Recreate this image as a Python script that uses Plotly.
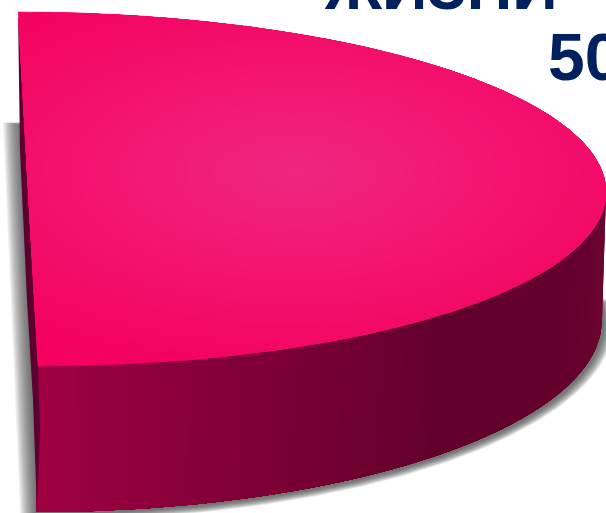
import numpy as np
import plotly.graph_objects as go

# Slice share and caption text
share_pct = [50]
caption_word = ["ЖИЗНИ"]
caption_share = ["50"]

# Colours of the slice
top_rim_color = (245, 2, 96)
top_glow_color = (240, 38, 128)
wall_stops = [0.0, 0.25, 0.5, 0.75, 1.0]
wall_shades = [(110, 8, 50), (100, 0, 44), (98, 0, 44), (126, 0, 54), (160, 0, 66)]
edge_color = "#5c0030"
ink_color = "#002060"

W, H = 606, 513


def hex_rgb(c):
    return f"rgb({int(c[0])},{int(c[1])},{int(c[2])})"


def mix(a, b, f):
    return tuple(a[i] + (b[i] - a[i]) * f for i in range(3))


def top_rim(t):
    """Point on the upper ellipse of the pie at eccentric angle t."""
    return 28 + 578 * np.cos(t) + 10 * np.sin(t), 189 + 177 * np.sin(t)


def base_rim(t, grow=0.0, dx=0.0, dy=0.0):
    """Point on the lower ellipse, optionally enlarged and shifted for the shadow."""
    return 36 + dx + (566 + grow) * np.cos(t), 320 + dy + (192 + grow) * np.sin(t)


sweep = np.radians(share_pct[0] / 100 * 360)
start = -np.pi / 2
t_face = np.linspace(start, start + sweep, 240)

fig = go.Figure()


def poly(x, y, color, line=0.0):
    fig.add_trace(go.Scatter(
        x=x, y=y, mode="lines", fill="toself", fillcolor=color,
        line=dict(color=color, width=line), hoverinfo="skip", showlegend=False,
    ))


# Soft drop shadow behind the body
for i in range(14):
    d = 16 * (1 - i / 13)
    t_s = np.linspace(np.pi / 2, -0.1, 120)
    bx, by = base_rim(t_s, grow=0.4 * d, dx=2 + 0.25 * d, dy=2)
    sx = np.r_[19 - d, 37 - d, bx, 500, 60]
    sy = np.r_[124 - 0.1 * d, 530, by, 250, 124 - 0.1 * d]
    poly(sx, sy, "rgba(70,70,70,0.085)")

# Outer wall: each band runs to the end of the arc so the next one paints over it
n_wall = 70
t_wall = np.linspace(0.0, sweep / 2, n_wall + 1)
for i in range(n_wall):
    f = (i + 0.5) / n_wall
    shade = tuple(np.interp(f, wall_stops, [s[c] for s in wall_shades]) for c in range(3))
    ta = np.linspace(t_wall[i], sweep / 2, 80)
    x1, y1 = top_rim(ta)
    x2, y2 = base_rim(ta)
    poly(np.r_[x1, x2[::-1]], np.r_[y1, y2[::-1]], hex_rgb(shade))

# Dark cut face seen edge-on along the left side
x_a, y_a = top_rim(start)
x_b, y_b = top_rim(start + sweep)
x_c, y_c = base_rim(np.pi / 2)
poly([x_a, x_b, x_b + 2, x_c + 1, 33, 27, 20, x_a],
     [y_a, y_b, 430, y_c, 400, 300, 150, y_a], edge_color)

# Top face outline: the arc closed by its straight cut edge
chord = np.linspace(0, 1, 60)[1:-1]
fx, fy = top_rim(t_face)
fx = np.r_[fx, fx[-1] + (fx[0] - fx[-1]) * chord]
fy = np.r_[fy, fy[-1] + (fy[0] - fy[-1]) * chord]

# Top face: elliptical glow rings clipped to that outline
gx, gy = 295.0, 172.0
poly(fx, fy, hex_rgb(top_rim_color), line=0.6)
ang = np.arctan2(fy - gy, fx - gx)
bound = np.hypot(fx - gx, fy - gy)
order = np.argsort(ang)
rays = np.linspace(-np.pi, np.pi, 721)
limit = np.interp(rays, ang[order], bound[order], period=2 * np.pi)
n_rings = 50
for i in range(n_rings):
    k = 1.0 - i / n_rings
    ring = k * 420 * 205 / np.hypot(205 * np.cos(rays), 420 * np.sin(rays))
    r = np.minimum(ring, limit)
    poly(gx + r * np.cos(rays), gy + r * np.sin(rays),
         hex_rgb(mix(top_rim_color, top_glow_color, (i + 1) / n_rings)))

fig.update_xaxes(range=[0, W], visible=False, fixedrange=True)
fig.update_yaxes(range=[H, 0], visible=False, fixedrange=True)
fig.update_layout(
    width=W, height=H, autosize=False,
    margin=dict(l=0, r=0, t=0, b=0),
    plot_bgcolor="white", paper_bgcolor="white", showlegend=False,
    annotations=[
        dict(x=322, y=24, text=f"<b>{caption_word[0]}</b>", showarrow=False,
             xanchor="left", yanchor="bottom",
             font=dict(family="Liberation Sans", size=63, color=ink_color)),
        dict(x=546, y=96, text=f"<b>{caption_share[0]}</b>", showarrow=False,
             xanchor="left", yanchor="bottom",
             font=dict(family="Liberation Sans", size=66, color=ink_color)),
    ],
)
fig.write_html("out.html")
